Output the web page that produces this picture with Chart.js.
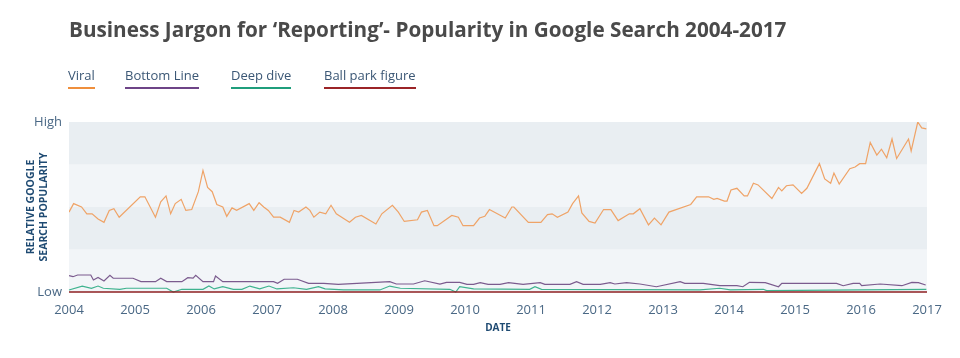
<!DOCTYPE html>
<html lang="en">

<head>
    <meta charset="UTF-8">
    <title>Business Jargon for 'Reporting'</title>
    <script src="https://cdn.jsdelivr.net/npm/chart.js"></script>
    <style>
        body { margin: 0; background: #fff; font-family: 'Open Sans', sans-serif; }
        .wrap { position: relative; width: 960px; height: 358px; }
        .wrap canvas { position: absolute; left: 0; top: 0; }
        h1 { position: absolute; left: 69px; top: 15px; margin: 0; font-size: 20.7px; line-height: 28px; font-weight: 700; color: #4a4a4a; white-space: nowrap; }
        .legend span { position: absolute; top: 66px; font-size: 13px; line-height: 18px; color: #3b5775; padding-bottom: 3px; border-bottom: 2px solid; white-space: nowrap; }
    </style>
</head>

<body>
    <div class="wrap">
        <canvas id="chart" width="960" height="358"></canvas>
        <h1>Business Jargon for ‘Reporting’- Popularity in Google Search 2004-2017</h1>
        <div class="legend">
            <span style="left:68px; border-color:#ef8f3c">Viral</span>
            <span style="left:125px; border-color:#6e4487">Bottom Line</span>
            <span style="left:231px; border-color:#1f9e7c">Deep dive</span>
            <span style="left:324px; border-color:#9b2427">Ball park figure</span>
        </div>
    </div>
    <script>
        // dates as decimal years, values 0 (Low) .. 100 (High)
        const viralDates = [2004.00, 2004.07, 2004.19, 2004.27, 2004.35, 2004.44, 2004.53, 2004.61, 2004.68, 2004.76,
            2005.08, 2005.15, 2005.31, 2005.39, 2005.47, 2005.54, 2005.61, 2005.70, 2005.77, 2005.86, 2005.96,
            2006.03, 2006.10, 2006.17, 2006.24, 2006.33, 2006.39, 2006.47, 2006.54, 2006.73, 2006.80, 2006.88, 2006.95,
            2007.02, 2007.10, 2007.20, 2007.34, 2007.41, 2007.48, 2007.59, 2007.65, 2007.71, 2007.80, 2007.89, 2007.97,
            2008.05, 2008.25, 2008.34, 2008.43, 2008.65, 2008.74, 2008.90, 2008.99,
            2009.08, 2009.28, 2009.34, 2009.43, 2009.53, 2009.58, 2009.80, 2009.90, 2009.97,
            2010.13, 2010.22, 2010.30, 2010.37, 2010.61, 2010.71, 2010.74, 2010.96,
            2011.15, 2011.25, 2011.32, 2011.40, 2011.56, 2011.63, 2011.72, 2011.77, 2011.88, 2011.97,
            2012.10, 2012.21, 2012.32, 2012.49, 2012.55, 2012.65, 2012.78, 2012.87, 2012.97,
            2013.09, 2013.42, 2013.51, 2013.69, 2013.77, 2013.82, 2013.93, 2013.97,
            2014.03, 2014.12, 2014.23, 2014.28, 2014.37, 2014.44, 2014.65, 2014.75, 2014.80, 2014.87, 2014.97,
            2015.10, 2015.18, 2015.37, 2015.45, 2015.54, 2015.59, 2015.67, 2015.83, 2015.91, 2015.98,
            2016.07, 2016.14, 2016.24, 2016.31, 2016.39, 2016.47, 2016.54, 2016.72, 2016.76, 2016.86, 2016.92, 2016.99];
        const viralValues = [47, 52, 50, 46, 46, 43, 41, 48, 49, 44,
            56, 56, 44, 53, 56.5, 46, 52, 54.5, 48, 48.5, 59,
            71.5, 61.5, 59, 51.5, 50, 44.5, 49.5, 48, 52, 48, 52.5, 50,
            48, 44, 44, 41, 48, 47, 50, 48, 44, 47, 46, 51,
            46, 41, 44, 45, 40, 46, 51, 47,
            41.5, 42.5, 47, 48, 39, 39, 45, 44, 39,
            39, 43.5, 44.5, 48.5, 43.5, 50, 50, 41,
            41, 45.5, 46, 44, 47, 52, 56.5, 46.5, 41.5, 40.5,
            48.5, 48.5, 42, 46, 46, 49, 39.5, 43.5, 39.5,
            47, 51.5, 56, 56, 54.5, 55, 53.5, 53.5,
            60, 61, 56.5, 56.5, 64, 63, 55, 61.5, 59.5, 62.5, 63,
            58, 61, 75.5, 66.5, 64, 70, 63.5, 72.5, 73.5, 75.5,
            75.5, 88, 80.5, 84, 79, 90, 78.5, 90, 83, 100, 96.5, 96];

        const bottomDates = [2004.00, 2004.06, 2004.13, 2004.33, 2004.37, 2004.44, 2004.53, 2004.62, 2004.67, 2004.97,
            2005.09, 2005.31, 2005.39, 2005.48, 2005.71, 2005.80, 2005.88, 2005.92,
            2006.03, 2006.19, 2006.22, 2006.33, 2007.10, 2007.16, 2007.26, 2007.46, 2007.63, 2007.86,
            2008.08, 2008.86, 2008.96, 2009.22, 2009.39, 2009.62, 2009.72, 2009.92,
            2010.03, 2010.13, 2010.23, 2010.35, 2010.53, 2010.66, 2010.88,
            2011.14, 2011.21, 2011.59, 2011.69, 2011.79, 2012.05, 2012.20, 2012.27, 2012.45, 2012.65, 2012.90,
            2013.26, 2013.33, 2013.61, 2013.86, 2014.12, 2014.21, 2014.31, 2014.55, 2014.75, 2014.80,
            2015.63, 2015.73, 2015.88, 2015.98, 2016.01, 2016.29, 2016.62, 2016.77, 2016.87, 2016.98];
        const bottomValues = [9.6, 9, 10, 10, 7.1, 8.6, 6.5, 9.8, 8.1, 8.1,
            6.1, 6.1, 8.1, 6.1, 6.1, 8.4, 8.2, 9.8,
            6.1, 6.1, 9.4, 6.1, 6.1, 5.1, 7.5, 7.5, 5.1, 5.1,
            4.5, 6.1, 4.7, 4.7, 6.6, 4.7, 5.7, 5.7,
            4.5, 4.5, 5.5, 4.5, 4.5, 5.5, 4.5,
            5.5, 4.5, 4.5, 6.1, 4.5, 4.5, 5.5, 4.7, 5.5, 4.7, 3.1,
            6.1, 5.1, 5.1, 3.7, 3.7, 3.1, 5.7, 5.5, 3.1, 5.1,
            5.1, 3.7, 5.1, 5.1, 3.7, 4.7, 3.7, 5.7, 5.5, 4.1];

        const deepDates = [2004.00, 2004.20, 2004.34, 2004.44, 2004.52, 2004.77, 2004.87,
            2005.48, 2005.58, 2005.71, 2006.03, 2006.12, 2006.20, 2006.33, 2006.49, 2006.62, 2006.74, 2006.89,
            2007.03, 2007.15, 2007.40, 2007.60, 2007.78, 2007.88, 2008.16, 2008.71, 2008.86, 2009.02,
            2009.77, 2009.86, 2009.92, 2010.13, 2010.98, 2011.06, 2011.16,
            2013.56, 2013.86, 2014.02, 2014.52, 2014.57, 2016.99];
        const deepValues = [1.2, 3.5, 2.2, 3.5, 2.2, 1.6, 2.2,
            2.2, 0, 1.6, 1.6, 3.5, 1.8, 3.1, 1.6, 1.6, 3.5, 1.8,
            3.5, 1.8, 2.5, 1.6, 3.1, 1.8, 1.2, 1.2, 3.5, 2.2,
            1.6, 0, 3.1, 1.8, 1.6, 3.1, 1.6,
            1.2, 2.2, 1.2, 1.6, 0.8, 1.6];

        const ballparkDates = [2004, 2017];
        const ballparkValues = [0, 0];

        const yearTicks = [2004, 2005, 2006, 2007, 2008, 2009, 2010, 2011, 2012, 2013, 2014, 2015, 2016, 2017];
        const yLabels = { 0: 'Low', 100: 'High' };

        function pts(dates, values) {
            return dates.map((d, i) => ({ x: d, y: values[i] }));
        }

        // alternating shaded bands every 25
        const bands = {
            id: 'bands',
            beforeDatasetsDraw(chart) {
                const { ctx, chartArea, scales } = chart;
                const y = scales.y;
                for (let i = 0; i < 4; i++) {
                    const top = y.getPixelForValue((i + 1) * 25);
                    const bottom = y.getPixelForValue(i * 25);
                    ctx.fillStyle = i % 2 === 0 ? '#f2f5f8' : '#e9eef2';
                    ctx.fillRect(chartArea.left, top, chartArea.right - chartArea.left, bottom - top);
                }
            }
        };

        Chart.defaults.font.family = "'Open Sans', sans-serif";

        new Chart(document.getElementById('chart'), {
            type: 'line',
            data: {
                datasets: [
                    { label: 'Ball park figure', data: pts(ballparkDates, ballparkValues), borderColor: '#8e1f22', borderWidth: 1.6, clip: 4 },
                    { label: 'Deep dive', data: pts(deepDates, deepValues), borderColor: '#3fb38f', borderWidth: 1.2, clip: 4 },
                    { label: 'Bottom Line', data: pts(bottomDates, bottomValues), borderColor: '#7b5b8e', borderWidth: 1.2 },
                    { label: 'Viral', data: pts(viralDates, viralValues), borderColor: '#efa367', borderWidth: 1.2 }
                ]
            },
            options: {
                responsive: false,
                animation: false,
                layout: { padding: { top: 122, right: 33, left: 0, bottom: 0 } },
                elements: { point: { radius: 0 }, line: { tension: 0 } },
                plugins: { legend: { display: false }, tooltip: { enabled: false } },
                scales: {
                    x: {
                        type: 'linear',
                        min: 2004,
                        max: 2017,
                        afterFit(s) { s.height = 66; },
                        afterBuildTicks(s) { s.ticks = yearTicks.map(v => ({ value: v })); },
                        grid: { display: false, drawTicks: false },
                        border: { display: false },
                        ticks: { callback: v => String(v), color: '#4a6885', font: { size: 13 }, padding: 10, maxRotation: 0 },
                        title: { display: true, text: 'DATE', color: '#1e4a72', font: { size: 10, weight: 'bold' }, padding: { top: 0, bottom: 24 } }
                    },
                    y: {
                        min: 0,
                        max: 100,
                        afterFit(s) { s.width = 69; },
                        grid: { display: false, drawTicks: false },
                        border: { display: false },
                        ticks: { stepSize: 25, callback: v => yLabels[v] || '', color: '#4a6885', font: { size: 13 }, padding: 7 },
                        title: { display: true, text: ['RELATIVE GOOGLE', 'SEARCH POPULARITY'], color: '#1e4a72', font: { size: 10.5, weight: 'bold' }, padding: { top: 25, bottom: 0 } }
                    }
                }
            },
            plugins: [bands]
        });
    </script>
</body>

</html>
